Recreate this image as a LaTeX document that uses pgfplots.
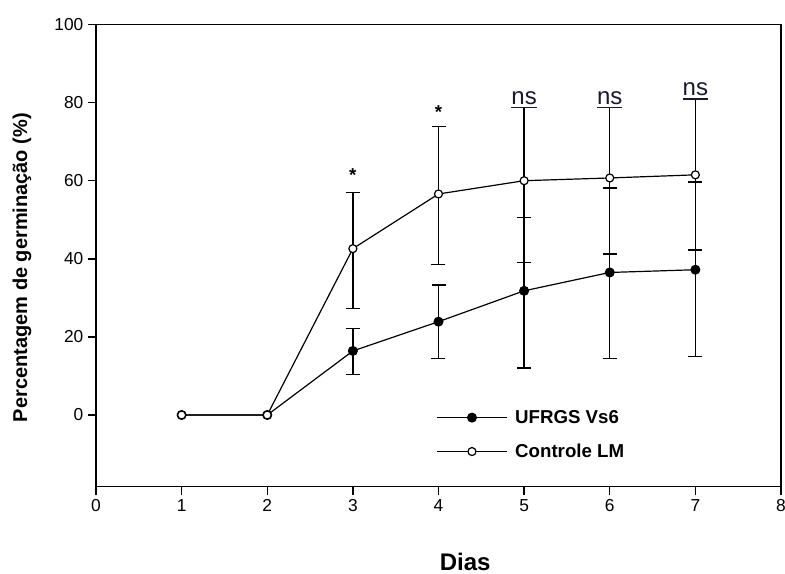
\documentclass[border=0pt]{standalone}
\usepackage{pgfplots}
\pgfplotsset{compat=1.18}
\usepackage{fontspec}
\setmainfont{Liberation Sans}
\definecolor{nscol}{RGB}{25,25,50}
\pgfplotstableread{
x y
1 0
2 0
3 16.4
4 23.9
5 31.8
6 36.5
7 37.2
}\ufrgs
\pgfplotstableread{
x y ep em
3 16.4 5.7 6.0
4 23.9 9.4 9.4
5 31.8 18.8 19.8
6 36.5 21.6 22.0
7 37.2 22.5 22.2
}\ufrgserr
\pgfplotstableread{
x y
1 0
2 0
3 42.6
4 56.6
5 60.0
6 60.7
7 61.5
}\controle
\pgfplotstableread{
x y ep em
3 42.6 14.4 15.3
4 56.6 17.3 18.0
5 60.0 18.7 20.9
6 60.7 18.0 19.5
7 61.5 19.3 19.3
}\controleerr
\begin{document}
\begin{tikzpicture}
\begin{axis}[
  at={(0,0)}, anchor=south west,
  scale only axis, width=513.75pt, height=346.65pt,
  xmin=0, xmax=8, ymin=-18.36, ymax=100,
  xtick={0,1,...,8}, ytick={0,20,...,100},
  tick align=outside, xtick pos=bottom, ytick pos=left,
  major tick length=6pt,
  axis line style={line width=1.1pt},
  every tick/.style={black, line width=1.1pt},
  tick label style={font=\fontsize{13}{15}\selectfont},
  /pgf/number format/assume math mode=true,
  xlabel={Dias}, ylabel={Percentagem de germinação (\%)},
  xlabel style={font=\fontsize{18}{21}\selectfont\bfseries, at={(axis description cs:0.539,-0.163)}, anchor=center},
  ylabel style={font=\fontsize{15}{18}\selectfont\bfseries, at={(axis description cs:-0.108,0.474)}, anchor=center},
  legend style={draw=none, fill=none, at={(axis description cs:0.497,0.1125)}, anchor=west,
    font=\fontsize{14}{17}\selectfont\bfseries, inner sep=0pt, row sep=10pt,
    /tikz/every odd column/.append style={column sep=4pt}},
  legend cell align=left,
  legend image code/.code={\draw[mark repeat=2,mark phase=2,#1] plot coordinates {(0pt,0pt) (26pt,0pt) (52pt,0pt)};},
  error bars/error bar style={line width=1.1pt, black},
  error bars/error mark options={rotate=90, line width=1.1pt, mark size=5.25pt, black},
]
\addplot[draw=none, mark=none, forget plot,
  error bars/.cd, y dir=both, y explicit]
  table[x=x, y=y, y error plus=ep, y error minus=em] {\ufrgserr};
\addplot[draw=none, mark=none, forget plot,
  error bars/.cd, y dir=both, y explicit]
  table[x=x, y=y, y error plus=ep, y error minus=em] {\controleerr};
\addplot[black, line width=0.9pt, mark=*, mark size=3.3pt, mark options={fill=black}]
  table[x=x, y=y] {\ufrgs};
\addlegendentry{UFRGS Vs6}
\addplot[black, line width=0.9pt, mark=*, mark size=3pt, mark options={fill=white}]
  table[x=x, y=y] {\controle};
\addlegendentry{Controle LM}
\node[font=\fontsize{14}{17}\selectfont\bfseries, anchor=base] at (axis cs:3,59.7) {*};
\node[font=\fontsize{14}{17}\selectfont\bfseries, anchor=base] at (axis cs:4,75.9) {*};
\node[font=\fontsize{18}{21}\selectfont, text=nscol, anchor=base, inner sep=0pt] at (axis cs:5,79.6) {\vtop{\hbox{ns}\kern1.6pt\hrule height 1.1pt}};
\node[font=\fontsize{18}{21}\selectfont, text=nscol, anchor=base, inner sep=0pt] at (axis cs:6,79.6) {\vtop{\hbox{ns}\kern1.6pt\hrule height 1.1pt}};
\node[font=\fontsize{18}{21}\selectfont, text=nscol, anchor=base, inner sep=0pt] at (axis cs:7,81.7) {\vtop{\hbox{ns}\kern1.6pt\hrule height 1.1pt}};
\end{axis}
\pgfresetboundingbox
\path (-72pt,-65.475pt) rectangle (516.75pt,365.025pt);
\end{tikzpicture}
\end{document}
